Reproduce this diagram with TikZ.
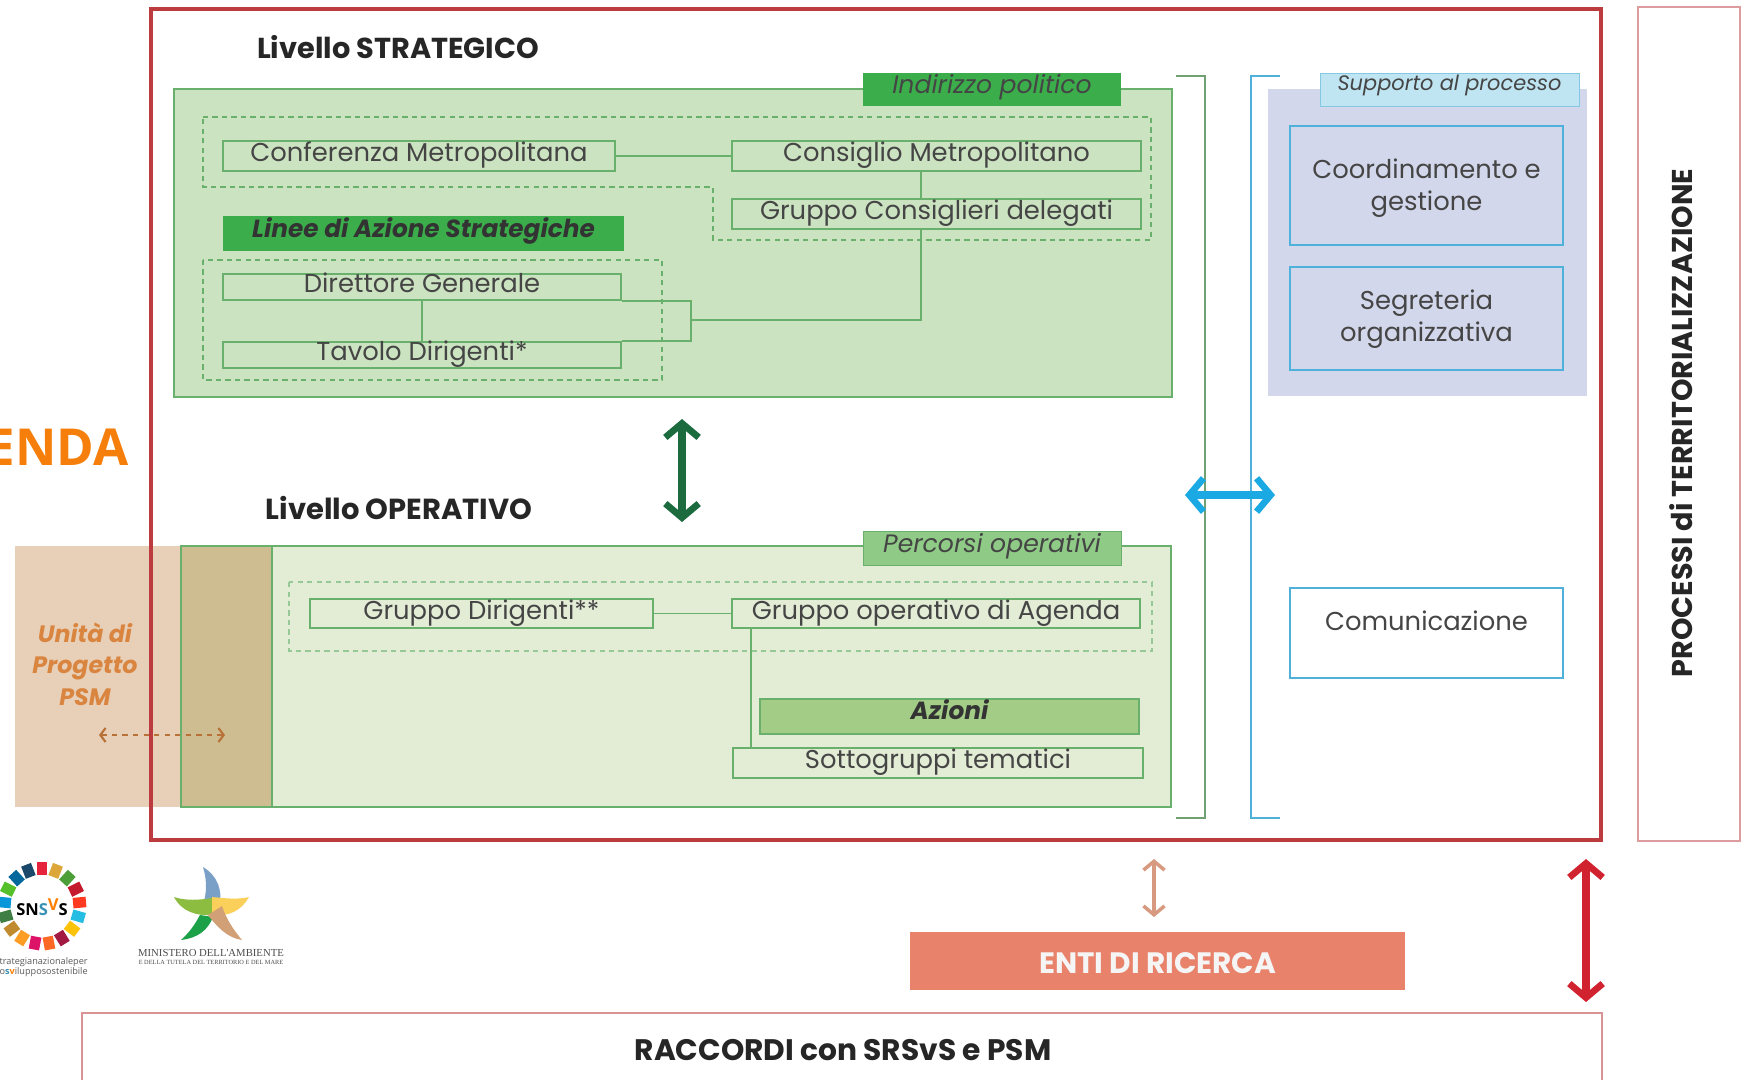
\documentclass[tikz,border=0pt]{standalone}
\usepackage{fontspec}
\usepackage{xcolor}
\setmainfont{Poppins}
\newfontfamily\ministerofont{Liberation Serif}
\newfontfamily\snsfont{Open Sans}
\usetikzlibrary{fit,calc,arrows.meta}
\definecolor{verdeS}{HTML}{CBE3C0}
\definecolor{verdeO}{HTML}{E3EDD6}
\definecolor{bordoV}{HTML}{69B06C}
\definecolor{verdeF}{HTML}{3BAE4B}
\definecolor{verdeM}{HTML}{8FCB86}
\definecolor{verdeA}{HTML}{A3CC87}
\definecolor{verdeD}{HTML}{1C6B3F}
\definecolor{rosso}{HTML}{BC3B3E}
\definecolor{rossoF}{HTML}{D1232F}
\definecolor{pesca}{HTML}{E7CFB8}
\definecolor{cachi}{HTML}{CDBD91}
\definecolor{lavanda}{HTML}{D3D7EB}
\definecolor{azzurro}{HTML}{4FB0D9}
\definecolor{azzurroF}{HTML}{1AA9E3}
\definecolor{celeste}{HTML}{BFE5F2}
\definecolor{salmone}{HTML}{E8826A}
\definecolor{salmoneF}{HTML}{D7997F}
\definecolor{grigioT}{HTML}{454545}
\definecolor{aranU}{HTML}{D9853F}
\definecolor{aranA}{HTML}{F57F0A}
\definecolor{petaloB}{HTML}{7AA0C8}
\definecolor{petaloV}{HTML}{8CBC40}
\definecolor{petaloG}{HTML}{FAD05A}
\definecolor{petaloS}{HTML}{1CA048}
\definecolor{petaloT}{HTML}{D2A076}
\tikzset{
	boxS/.style={draw=bordoV,line width=1pt,inner sep=0pt},
	boxT/.style={draw=azzurro,line width=1.2pt,inner sep=0pt},
	tagV/.style={fill=#1,inner sep=0pt},
	txtS/.style={text=grigioT,font=\fontsize{14.7}{17}\selectfont,text height=.7em,text depth=.05em},
	txtT/.style={text=grigioT,align=center,font=\fontsize{14.7}{18.5}\selectfont},
	txtI/.style={text=grigioT,font=\fontsize{14.3}{17}\itshape\selectfont,text height=.7em,text depth=.2em},
	txtB/.style={text=black!80,font=\fontsize{14.1}{17}\bfseries\itshape\selectfont,text height=.7em,text depth=.2em},
	titolo/.style={text=black!85,font=\fontsize{#1}{20}\bfseries\selectfont},
	dashV/.style={draw=bordoV,line width=1.1pt,dash pattern=on 3pt off 2.4pt},
	linkV/.style={draw=bordoV,line width=1.1pt},
	arrowD/.style={{Straight Barb[length=8pt,width=19pt,line width=3.8pt]}-{Straight Barb[length=8pt,width=19pt,line width=3.8pt]}},
	tile/.style={inner sep=0pt,minimum width=.21cm,minimum height=.26cm},
	petal/.style={fill=#1,draw=none}
}
\begin{document}
\begin{tikzpicture}[x=0.02cm,y=-0.02cm]
	\clip (0,0) rectangle (1753,1079);
	\useasboundingbox (0,0) rectangle (1753,1079);
	\fill[white] (0,0) rectangle (1753,1079);
	% Unita di progetto
	\fill[pesca] (15,546) rectangle (181,807);
	\node[text=aranU,align=center,font=\fontsize{13.5}{18}\bfseries\itshape\selectfont] (unita) at (85,664) {Unità di\\Progetto\\PSM};
	% Livello strategico
	\node[fill=verdeS,draw=bordoV,line width=1.2pt,inner sep=0pt,fit={(174,89) (1172,397)}] (strategico) {};
	\node[titolo=16.4] (titoloS) at (398,47) {Livello STRATEGICO};
	\node[tagV=verdeF,fit={(863,73) (1121,106)},label={[txtI]center:Indirizzo politico}] (indirizzo) {};
	\draw[dashV] (203,117) -- (1151,117) -- (1151,240) -- (713,240) -- (713,187) -- (203,187) -- cycle;
	\draw[dashV] (203,260) rectangle (662,380);
	\node[boxS,fit={(223,141) (615,171)},label={[txtS]center:Conferenza Metropolitana}] (conferenza) {};
	\node[boxS,fit={(732,141) (1141,171)},label={[txtS]center:Consiglio Metropolitano}] (consiglio) {};
	\node[boxS,fit={(732,199) (1141,229)},label={[txtS]center:Gruppo Consiglieri delegati}] (gruppocons) {};
	\node[tagV=verdeF,fit={(223,216) (624,251)},label={[txtB]center:Linee di Azione Strategiche}] (linee) {};
	\node[boxS,fit={(223,274) (621,300)},label={[txtS]center:Direttore Generale}] (direttore) {};
	\node[boxS,fit={(223,342) (621,368)},label={[txtS]center:Tavolo Dirigenti*}] (tavolo) {};
	\coordinate (nodoA) at (691,320);
	\coordinate (nodoB) at (921,320);
	\draw[linkV] (conferenza) -- (consiglio);
	\draw[linkV] (consiglio.south -| nodoB) -- (gruppocons.north -| nodoB);
	\draw[linkV] (direttore) -- (tavolo);
	\draw[linkV] (direttore.south east) -- (nodoA |- direttore.south) -- (nodoA |- tavolo.north) -- (tavolo.north east);
	\draw[linkV] (nodoA) -- (nodoB) -- (gruppocons.south -| nodoB);
	% Livello operativo
	\node[fill=verdeO,draw=bordoV,line width=1.2pt,inner sep=0pt,fit={(181,546) (1171,807)}] (operativo) {};
	\fill[cachi] (181,546) rectangle (272,807);
	\draw[bordoV,line width=1.2pt] (181,546) rectangle (272,807);
	\node[titolo=16.5] (titoloO) at (399,508) {Livello OPERATIVO};
	\node[tagV=verdeM,draw=bordoV,fit={(863,531) (1121,565)},label={[txtI]center:Percorsi operativi}] (percorsi) {};
	\draw[dashV,draw=bordoV!70] (289,582) rectangle (1152,651);
	\node[boxS,fit={(310,599) (653,628)},label={[txtS]center:Gruppo Dirigenti**}] (gruppodir) {};
	\node[boxS,fit={(732,599) (1140,628)},label={[txtS]center:Gruppo operativo di Agenda}] (gruppoop) {};
	\node[tagV=verdeA,draw=bordoV,line width=1.2pt,fit={(760,699) (1139,734)},label={[txtB,text depth=.33em]center:Azioni}] (azioni) {};
	\node[boxS,fit={(733,748) (1143,778)},label={[txtS]center:Sottogruppi tematici}] (sottogruppi) {};
	\coordinate (nodoC) at (751,700);
	\draw[linkV] (gruppodir) -- (gruppoop);
	\draw[linkV] (gruppoop.south -| nodoC) -- (sottogruppi.north -| nodoC);
	% Freccia tratteggiata
	\coordinate (psmA) at (99,735);
	\coordinate (psmB) at (225,735);
	\draw[aranU!85!black,line width=1.2pt,dash pattern=on 3pt off 3pt,{Straight Barb[length=3pt,width=8pt]}-{Straight Barb[length=3pt,width=8pt]}] (psmA) -- (psmB);
	% Cornice
	\draw[rosso,line width=2.4pt] (151,9) rectangle (1601,840);
	\node[draw=rosso!50,line width=.8pt,fit={(1638,7) (1740,841)},inner sep=0pt] (territorio) {};
	\node[rotate=90,titolo=16.3] (testoT) at (1681,423) {PROCESSI di TERRITORIALIZZAZIONE};
	% Supporto al processo
	\fill[lavanda] (1268,89) rectangle (1587,396);
	\node[tagV=celeste,draw=azzurro!70,fit={(1320,73) (1579,106)},label={[txtI,font=\fontsize{11.9}{14}\itshape\selectfont,text depth=.6em]center:Supporto al processo}] (supporto) {};
	\node[boxT,fit={(1290,126) (1563,245)},label={[txtT,yshift=-1.5pt]center:{Coordinamento e\\gestione}}] (coordinamento) {};
	\node[boxT,fit={(1290,267) (1563,370)},label={[txtT,yshift=-.5pt]center:{Segreteria\\organizzativa}}] (segreteria) {};
	\node[boxT,fit={(1290,588) (1563,678)},label={[txtT,yshift=7pt]center:Comunicazione}] (comunicazione) {};
	% Parentesi
	\draw[bordoV!70!gray,line width=1.2pt] (1176,76) -- (1205,76) -- (1205,818) -- (1176,818);
	\draw[azzurro,line width=1.4pt] (1280,76) -- (1251,76) -- (1251,818) -- (1280,818);
	% Frecce doppie
	\coordinate (frA) at (682,419);
	\coordinate (frB) at (682,522);
	\coordinate (frC) at (1185,495);
	\coordinate (frD) at (1275,495);
	\coordinate (frE) at (1154,859);
	\coordinate (frF) at (1154,917);
	\coordinate (frG) at (1586,859);
	\coordinate (frH) at (1586,1002);
	\draw[arrowD,color=verdeD,line width=4.4pt] (frA) -- (frB);
	\draw[arrowD,color=azzurroF,line width=4.4pt] (frC) -- (frD);
	\draw[{Straight Barb[length=5pt,width=12pt,line width=2pt]}-{Straight Barb[length=5pt,width=12pt,line width=2pt]},color=salmoneF,line width=2pt] (frE) -- (frF);
	\draw[arrowD,color=rossoF,line width=4.6pt] (frG) -- (frH);
	% Enti e raccordi
	\node[fill=salmone,inner sep=0pt,fit={(910,932) (1405,990)},label={[titolo=16.8,text=white!92!gray,yshift=-1pt]center:ENTI DI RICERCA}] (enti) {};
	\node[draw=rosso!55,line width=1pt,inner sep=0pt,fit={(82,1013) (1602,1095)}] (raccordi) {};
	\node[titolo=16.9] (testoR) at (843,1050) {RACCORDI con SRSvS e PSM};
	\node[anchor=east,inner sep=0pt,text=aranA,font=\snsfont\fontsize{29}{34}\bfseries\selectfont] (agenda) at (129,447) {ENDA};
	% Logo SNSvS
	\foreach \i/\c in {0/E5243B,1/DDA63A,2/4C9F38,3/C5192D,4/FF3A21,5/26BDE2,6/FCC30B,7/A21942,8/FD6925,9/DD1367,10/FD9D24,11/BF8B2E,12/3F7E44,13/0A97D9,14/56C02B,15/00689D,16/19486A}
	{
		\definecolor{tilecol}{HTML}{\c}
		\node[tile,fill=tilecol,rotate={-(\i*21.18)}] (tile\i) at ($(42,906)+(-90+\i*21.18:37.7)$) {};
	}
	\node[font=\snsfont\fontsize{9.4}{11}\bfseries\selectfont] (sns) at (42,907) {SN\textcolor{cyan!70!black}{S}\raisebox{2.5pt}{\textcolor{orange}{V}}S};
	\node[anchor=east,inner sep=0pt,text=black!65,font=\snsfont\fontsize{5.2}{6}\selectfont] (snsA) at (88,962) {strategianazionaleper};
	\node[anchor=east,inner sep=0pt,text=black!65,font=\snsfont\fontsize{5.2}{6}\selectfont] (snsB) at (88,972) {o\textcolor{cyan!70!black}{\textbf{s}}\textcolor{orange}{\textbf{v}}ilupposostenibile};
	% Logo ministero
	\fill[petal=petaloB] (203,867) .. controls (218,876) and (222,890) .. (220,905) -- (203,905) .. controls (207,892) and (207,880) .. (203,867) -- cycle;
	\fill[petal=petaloV] (174,897) .. controls (186,901) and (200,900) .. (212,898) -- (212,915) .. controls (197,916) and (182,912) .. (174,897) -- cycle;
	\fill[petal=petaloG] (249,897) .. controls (237,900) and (224,898) .. (212,897) -- (212,914) .. controls (228,918) and (242,910) .. (249,897) -- cycle;
	\fill[petal=petaloS] (181,940) .. controls (192,930) and (196,922) .. (200,915) -- (213,917) .. controls (208,930) and (198,938) .. (181,940) -- cycle;
	\fill[petal=petaloT] (222,906) -- (208,915) .. controls (218,928) and (228,938) .. (242,940) .. controls (232,928) and (226,918) .. (222,906) -- cycle;
	\node[font=\ministerofont\fontsize{6.1}{7}\selectfont,text=black!70,inner sep=0pt] (ministeroA) at (211,953) {MINISTERO DELL'AMBIENTE};
	\node[font=\ministerofont\fontsize{3.6}{5}\selectfont,text=black!70,inner sep=0pt] (ministeroB) at (211,962) {E DELLA TUTELA DEL TERRITORIO E DEL MARE};
\end{tikzpicture}
\end{document}
